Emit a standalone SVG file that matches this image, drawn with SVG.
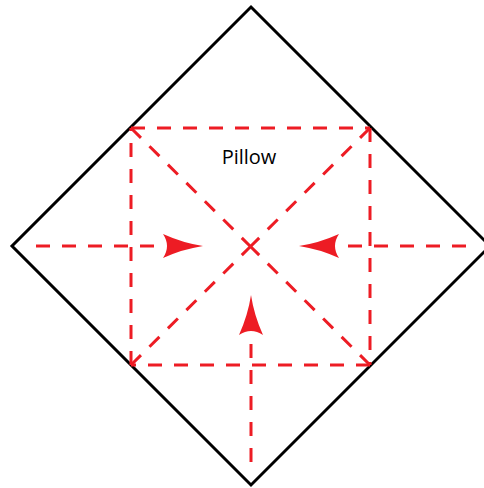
<svg xmlns="http://www.w3.org/2000/svg" width="484" height="488" viewBox="0 0 484 488">
<style>
.outline{fill:none;stroke:#000;stroke-width:3;stroke-linejoin:miter}
.dash{fill:none;stroke:#ED1C24;stroke-width:3;stroke-dasharray:14 12}
.head{fill:#ED1C24;stroke:none}
.label{font-family:"Open Sans","Noto Sans",sans-serif;font-size:20px;fill:#000}
</style>
<defs>
<path id="ah" d="M0,0 Q-20,-3 -40,-12 Q-32,0 -40,12 Q-20,3 0,0 Z"/>
</defs>
<rect width="484" height="488" fill="#fff"/>
<g id="pillow">
<path class="outline" d="M251,7 L490,246 L251,485 L12,246 Z"/>
<text class="label" x="249" y="164" text-anchor="middle">Pillow</text>
</g>
<g id="connectors">
<path class="dash" d="M131,128 L370,128"/>
<path class="dash" d="M370,128 L370,365"/>
<path class="dash" d="M370,365 L131,365"/>
<path class="dash" d="M131,365 L131,128"/>
<path class="dash" d="M131,128 L250.5,246.5"/>
<path class="dash" d="M370,128 L250.5,246.5"/>
<path class="dash" d="M131,365 L250.5,246.5"/>
<path class="dash" d="M370,365 L250.5,246.5"/>
<path class="dash" d="M36,246 L165,246"/>
<path class="dash" d="M466,246 L339,246"/>
<path class="dash" d="M251,462 L251,335"/>
<use class="head" href="#ah" transform="translate(203,246)"/>
<use class="head" href="#ah" transform="translate(299,246) rotate(180)"/>
<use class="head" href="#ah" transform="translate(251,295) rotate(-90)"/>
</g>
</svg>
